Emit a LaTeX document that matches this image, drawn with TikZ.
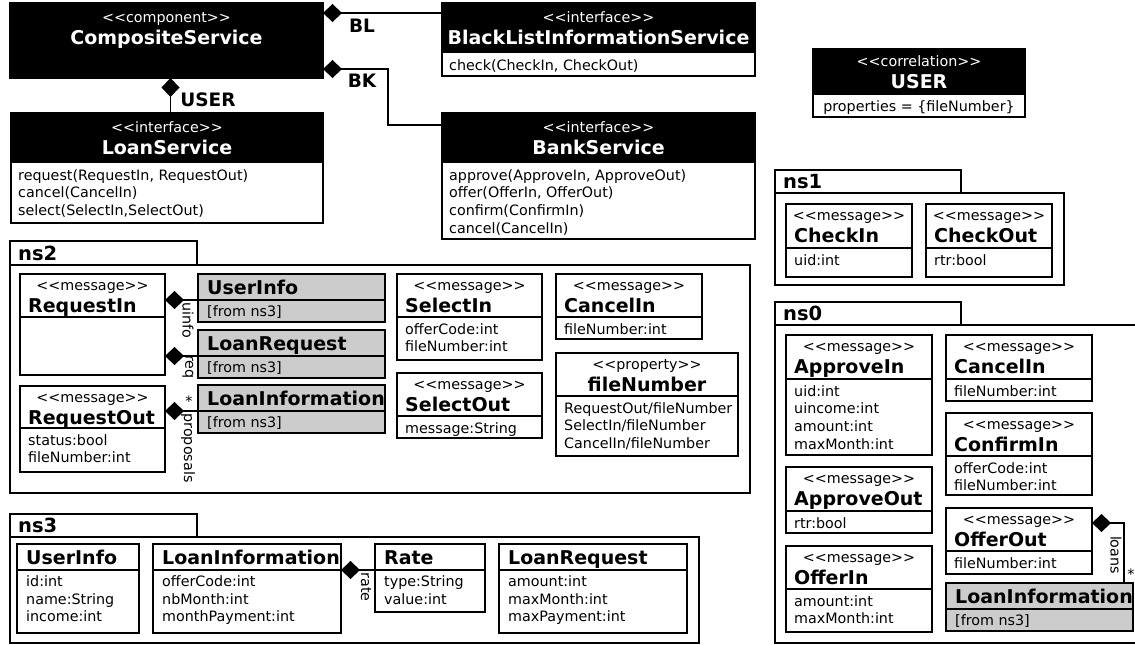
\documentclass[tikz,border=0pt]{standalone}
\usepackage{fontspec}
\setmainfont{DejaVu Sans}[Ligatures=TeXOff]
\usetikzlibrary{arrows.meta,calc}

\tikzset{
  box/.style={draw=black, line width=1.3pt, inner sep=0pt, outer sep=0pt},
  blackhdr/.style={box, fill=black},
  whitehdr/.style={box, fill=white},
  grayhdr/.style={box, fill=black!20},
  whitebody/.style={box, fill=white},
  graybody/.style={box, fill=black!20},
  pkgbox/.style={draw=black, line width=1.5pt, fill=white, inner sep=0pt, outer sep=0pt},
  stereo/.style={font=\fontsize{14.3}{16}\selectfont, inner sep=0pt, anchor=base},
  ttl/.style={font=\bfseries\fontsize{19}{22}\selectfont, inner sep=0pt},
  bodytxt/.style={font=\fontsize{14.3}{16}\selectfont, inner sep=0pt, anchor=base west},
  conn/.style={line width=1.3pt, {Diamond[length=19pt,width=18pt]}-},
  rolelbl/.style={font=\fontsize{14.3}{16}\selectfont, inner sep=0pt, rotate=-90},
  mult/.style={font=\fontsize{14.3}{16}\selectfont, inner sep=0pt},
  asslbl/.style={font=\bfseries\fontsize{18.5}{22}\selectfont, inner sep=0pt},
  pkglbl/.style={font=\bfseries\fontsize{19.5}{22}\selectfont, inner sep=0pt},
}

% name, x1, y1, x2, ydiv, y2, header style, body style
\newcommand\umlframe[8]{%
  \node[#7, anchor=north west, minimum width={(#4)-(#2)}, minimum height={(#5)-(#3)}] (#1) at (#2,#3) {};
  \node[#8, anchor=north west, minimum width={(#4)-(#2)}, minimum height={(#6)-(#5)}] (#1-b) at (#2,#5) {};
}
% name, x, first baseline, list
\newcommand\umllines[4]{%
  \foreach \lineText [count=\i] in {#4} {\node[bodytxt] (#1-l\i) at ({#2},{#3+(\i-1)*17.7}) {\lineText};}
}
% message box: name, x1, y1, x2, ydiv, y2, stereotype, title, lines
\newcommand\msgbox[9]{%
  \umlframe{#1}{#2}{#3}{#4}{#5}{#6}{whitehdr}{whitebody}
  \node[stereo] (#1-s) at ({(#2+#4)/2},{#3+16}) {#7};
  \node[ttl, anchor=base west] (#1-t) at ({#2+8},{#3+38}) {#8};
  \umllines{#1}{#2+8}{#5+17}{#9}
}
% interface box (black header)
\newcommand\ifbox[9]{%
  \umlframe{#1}{#2}{#3}{#4}{#5}{#6}{blackhdr}{whitebody}
  \node[stereo, text=white] (#1-s) at ({(#2+#4)/2},{#3+19}) {#7};
  \node[ttl, text=white, anchor=base] (#1-t) at ({(#2+#4)/2},{#3+41}) {#8};
  \umllines{#1}{#2+7}{#5+18}{#9}
}
% title-only box: name, x1, y1, x2, ydiv, y2, colour prefix, title, lines
\newcommand\plainbox[9]{%
  \umlframe{#1}{#2}{#3}{#4}{#5}{#6}{#7hdr}{#7body}
  \node[ttl, anchor=base west] (#1-t) at ({#2+9},{#3+20}) {#8};
  \umllines{#1}{#2+9}{#5+16.5}{#9}
}
% package: name, x1, ytab, xtab, ybody, x2, y2, label
\newcommand\umlpkg[8]{%
  \node[pkgbox, anchor=north west, minimum width={(#4)-(#2)}, minimum height={(#5)-(#3)}] (#1-tab) at (#2,#3) {};
  \node[pkgbox, anchor=north west, minimum width={(#6)-(#2)}, minimum height={(#7)-(#5)}] (#1) at (#2,#5) {};
  \node[pkglbl, anchor=base west] (#1-lbl) at ({#2+8},{(#3+#5)/2+7}) {#8};
}

\begin{document}
\begin{tikzpicture}[x=1pt,y=-1pt]
\useasboundingbox (0,0) rectangle (1135,645);
\fill[white] (0,0) rectangle (1135,645);

% ---------- packages ----------
\umlpkg{ns2}{10}{241}{197}{265}{750}{493}{ns2}
\umlpkg{ns3}{10}{514}{197}{537}{699}{643}{ns3}
\umlpkg{ns1}{775}{170}{961}{193}{1064}{285}{ns1}
\umlpkg{ns0}{775}{302}{961}{325}{1150}{643}{ns0}

% ---------- top ----------
\node[blackhdr, anchor=north west, minimum width=313, minimum height=75] (comp) at (10,3) {};
\node[stereo, text=white] (comp-s) at (166.5,22) {<<component>>};
\node[ttl, text=white, anchor=base] (comp-t) at (166.5,44) {CompositeService};

\ifbox{bl}{442}{3}{755}{52}{76}{<<interface>>}{BlackListInformationService}{{check(CheckIn, CheckOut)}}
\ifbox{loan}{11}{113}{323}{162}{223}{<<interface>>}{LoanService}{{request(RequestIn, RequestOut)},{cancel(CancelIn)},{select(SelectIn,SelectOut)}}
\ifbox{bank}{442}{113}{755}{162}{239}{<<interface>>}{BankService}{{approve(ApproveIn, ApproveOut)},{offer(OfferIn, OfferOut)},{confirm(ConfirmIn)},{cancel(CancelIn)}}

\umlframe{usr}{813}{49}{1025}{94}{117}{blackhdr}{whitebody}
\node[stereo, text=white] (usr-s) at (919,66) {<<correlation>>};
\node[ttl, text=white, anchor=base] (usr-t) at (919,88) {USER};
\node[stereo] (usr-l1) at (919,111) {properties = \{fileNumber\}};

% ---------- ns1 ----------
\msgbox{checkin}{786}{204}{912}{248}{277}{<<message>>}{CheckIn}{{uid:int}}
\msgbox{checkout}{926}{204}{1052}{248}{277}{<<message>>}{CheckOut}{{rtr:bool}}

% ---------- ns0 ----------
\msgbox{approvein}{786}{335}{932}{379}{455}{<<message>>}{ApproveIn}{{uid:int},{uincome:int},{amount:int},{maxMonth:int}}
\msgbox{cancelin0}{946}{335}{1092}{379}{401}{<<message>>}{CancelIn}{{fileNumber:int}}
\msgbox{confirmin}{946}{413}{1092}{456}{495}{<<message>>}{ConfirmIn}{{offerCode:int},{fileNumber:int}}
\msgbox{approveout}{786}{467}{932}{511}{533}{<<message>>}{ApproveOut}{{rtr:bool}}
\msgbox{offerout}{946}{508}{1092}{551}{574}{<<message>>}{OfferOut}{{fileNumber:int}}
\msgbox{offerin}{786}{546}{932}{589}{632}{<<message>>}{OfferIn}{{amount:int},{maxMonth:int}}
\plainbox{ginf0}{946}{583}{1133}{609}{631}{gray}{LoanInformation}{{[from ns3]}}

% ---------- ns2 ----------
\msgbox{reqin}{20}{274}{165}{317}{375}{<<message>>}{RequestIn}{}
\msgbox{reqout}{20}{386}{165}{428}{472}{<<message>>}{RequestOut}{{status:bool},{fileNumber:int}}
\plainbox{ginfo}{198}{274}{385}{300}{322}{gray}{UserInfo}{{[from ns3]}}
\plainbox{greq}{198}{330}{385}{356}{378}{gray}{LoanRequest}{{[from ns3]}}
\plainbox{ginf}{198}{385}{385}{411}{433}{gray}{LoanInformation}{{[from ns3]}}
\msgbox{selin}{397}{274}{542}{317}{360}{<<message>>}{SelectIn}{{offerCode:int},{fileNumber:int}}
\msgbox{selout}{397}{373}{542}{416}{438}{<<message>>}{SelectOut}{{message:String}}
\msgbox{cancelin2}{556}{274}{702}{317}{339}{<<message>>}{CancelIn}{{fileNumber:int}}
\umlframe{fnprop}{556}{353}{738}{396}{456}{whitehdr}{whitebody}
\node[stereo] (fnprop-s) at (647,369) {<<property>>};
\node[ttl, anchor=base] (fnprop-t) at (647,391) {fileNumber};
\umllines{fnprop}{564}{413}{{RequestOut/fileNumber},{SelectIn/fileNumber},{CancelIn/fileNumber}}

% ---------- ns3 ----------
\plainbox{ui3}{17}{544}{139}{570}{633}{white}{UserInfo}{{id:int},{name:String},{income:int}}
\plainbox{li3}{153}{544}{341}{570}{633}{white}{LoanInformation}{{offerCode:int},{nbMonth:int},{monthPayment:int}}
\plainbox{rate}{375}{544}{485}{570}{612}{white}{Rate}{{type:String},{value:int}}
\plainbox{lr3}{499}{544}{687}{570}{633}{white}{LoanRequest}{{amount:int},{maxMonth:int},{maxPayment:int}}

% ---------- connectors ----------
\draw[conn] ([yshift=-10pt]comp.north east) -- ([yshift=-10pt]bl.north west);
\draw[conn] ([yshift=9pt]comp.south east) -- ++(65,0) |- ([yshift=-12pt]bank.north west);
\draw[conn] ([xshift=4pt]comp.south) -- ([xshift=4pt]comp.south |- loan.north);
\draw[conn] (reqin.east |- ginfo.south west) -- (ginfo.south west);
\draw[conn] (reqin-b.east |- greq.south west) -- (greq.south west);
\draw[conn] (reqout.east |- ginf.south west) -- (ginf.south west);
\draw[conn] (li3.south east) -- (rate.south west);
\draw[conn] ([yshift=6.5pt]offerout.east) -| ([xshift=-9pt]ginf0.north east);

% ---------- connector labels ----------
\node[asslbl] (lblBL) at (362,26) {BL};
\node[asslbl] (lblBK) at (362,81) {BK};
\node[asslbl] (lblUSER) at (208,100) {USER};
\node[rolelbl] (lbluinfo) at (188,320) {uinfo};
\node[rolelbl] (lblreq) at (188,367) {req};
\node[mult] (lblstar1) at (189,401) {*};
\node[rolelbl] (lblprop) at (188,448) {proposals};
\node[rolelbl] (lblloans) at (1116,555) {loans};
\node[mult] (lblstar2) at (1131,574) {*};
\node[rolelbl] (lblrate) at (366,587) {rate};
\end{tikzpicture}
\end{document}
